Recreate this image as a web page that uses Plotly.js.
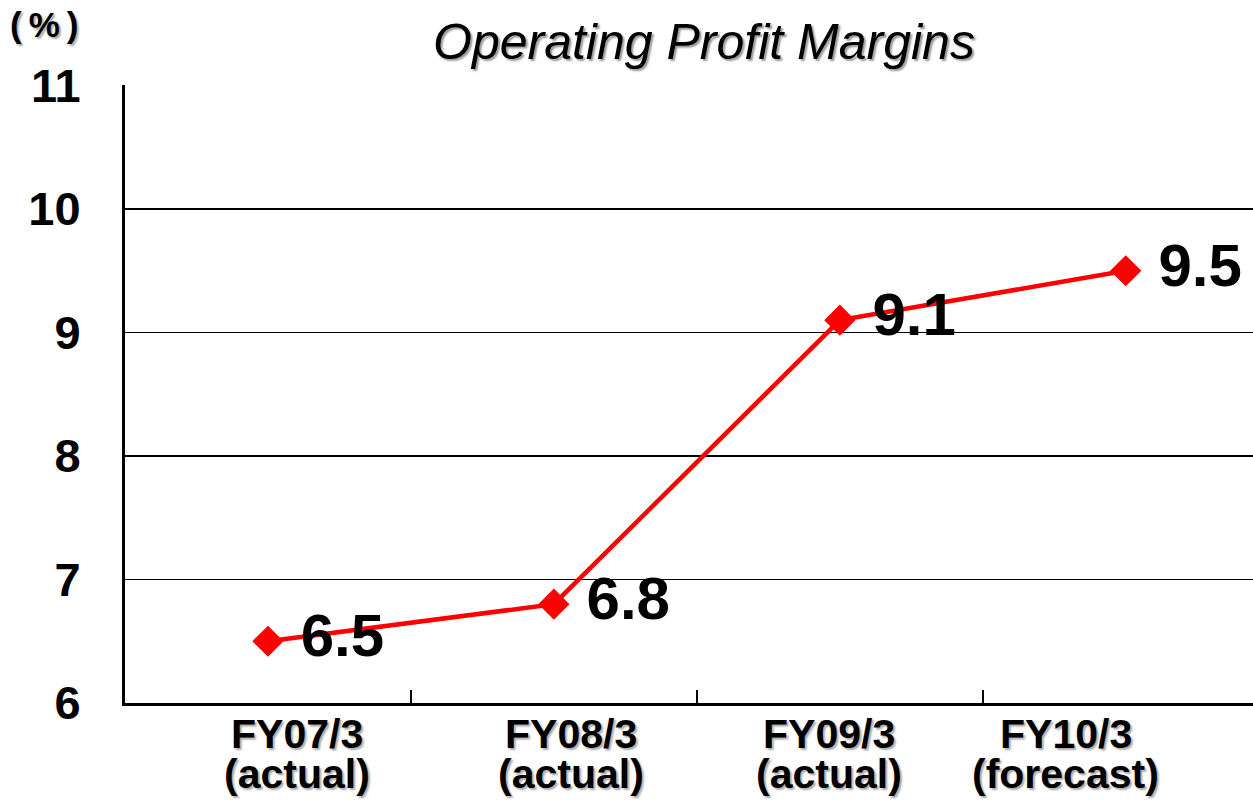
<!DOCTYPE html>
<html>
<head>
<meta charset="utf-8">
<script src="https://cdn.plot.ly/plotly-3.0.1.min.js"></script>
<style>html,body{margin:0;padding:0;background:#fff;}#chart{width:1253px;height:808px;}</style>
</head>
<body>
<div id="chart"></div>
<script>
const categories = ["FY07/3", "FY08/3", "FY09/3", "FY10/3"];
const subLabels = ["(actual)", "(actual)", "(actual)", "(forecast)"];
const margins = [6.5, 6.8, 9.1, 9.5];
const marginLabels = ["6.5", "6.8", "9.1", "9.5"];
const yTicks = [6, 7, 8, 9, 10, 11];
const chartTitle = "Operating Profit Margins";
const unitLabel = "(\u2009%\u2009)";

const xIdx = categories.map((c, i) => i);
const labelShift = [29, 17, -11, -60];
const FONT = "Liberation Sans, Arial, sans-serif";

const trace = {
  x: xIdx,
  y: margins,
  type: "scatter",
  mode: "lines+markers+text",
  text: marginLabels.map(t => "\u00a0" + t),
  textposition: "middle right",
  textfont: {family: FONT, size: 60, color: "#000", weight: "bold"},
  line: {color: "#ff0000", width: 4.5},
  marker: {symbol: "diamond", size: 24, color: "#ff0000"},
  cliponaxis: false,
  hoverinfo: "skip"
};

const annotations = [];
categories.forEach((c, i) => {
  annotations.push({
    x: i, y: 0, xref: "x", yref: "paper", yanchor: "top", xanchor: "center",
    yshift: -6, xshift: labelShift[i],
    text: c, showarrow: false,
    font: {family: FONT, size: 41, color: "#000", weight: "bold", shadow: "2px 2px 2px #aaa"}
  });
  annotations.push({
    x: i, y: 0, xref: "x", yref: "paper", yanchor: "top", xanchor: "center",
    yshift: -46, xshift: labelShift[i],
    text: subLabels[i], showarrow: false,
    font: {family: FONT, size: 41, color: "#000", weight: "bold", shadow: "2px 2px 2px #aaa"}
  });
});
annotations.push({
  x: 0, y: 1, xref: "paper", yref: "paper", xanchor: "left", yanchor: "top",
  text: unitLabel, showarrow: false,
  xshift: -117, yshift: 82,
  font: {family: FONT, size: 35, color: "#000", weight: "bold", shadow: "2px 2px 2px #aaa"}
});
annotations.push({
  x: 0.513, y: 1, xref: "paper", yref: "paper", xanchor: "center", yanchor: "bottom",
  yshift: 13, text: chartTitle, showarrow: false,
  font: {family: FONT, size: 50, color: "#000", style: "italic", shadow: "2px 2px 2px #999"}
});

const layout = {
  width: 1253, height: 808,
  margin: {l: 125, r: 0, t: 85, b: 105},
  paper_bgcolor: "#fff", plot_bgcolor: "#fff",
  showlegend: false,
  xaxis: {
    range: [-0.5, 3.445],
    tickvals: [0.5, 1.5, 2.5],
    showticklabels: false,
    ticks: "inside", ticklen: 13, tickwidth: 1.5, tickcolor: "#000",
    showgrid: false, zeroline: false,
    showline: true, linecolor: "#000", linewidth: 3
  },
  yaxis: {
    range: [6, 11.004],
    tickvals: yTicks,
    ticktext: yTicks.map(String),
    ticks: "", ticklabelstandoff: 32,
    tickfont: {family: FONT, size: 47, color: "#000", weight: "bold"},
    showgrid: true, gridcolor: "#000", gridwidth: 1.5,
    zeroline: false,
    showline: true, linecolor: "#000", linewidth: 3
  },
  annotations: annotations
};

Plotly.newPlot("chart", [trace], layout, {displayModeBar: false, staticPlot: true});
</script>
</body>
</html>
